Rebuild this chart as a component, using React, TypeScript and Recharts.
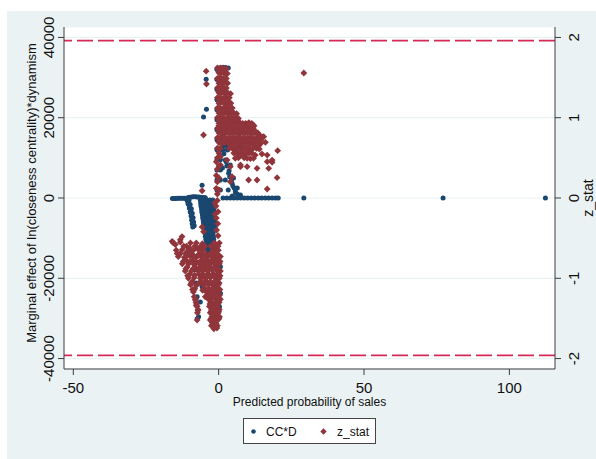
import React from "react";
import {
  ScatterChart,
  Scatter,
  XAxis,
  YAxis,
  CartesianGrid,
  ReferenceLine,
  Label,
} from "recharts";

// ---------- axis ticks ----------
const xTicks = [-50, 0, 50, 100];
const leftTicks = [-40000, -20000, 0, 20000, 40000];
const rightTicks = [-2, -1, 0, 1, 2];
const criticalZ = [1.96, -1.96];

// ---------- CC*D (left axis) : [x, marginal effect] ----------
const ccdLeftFlat: [number, number][] = [
  [-15.9, -150], [-15.3, -120], [-14.7, -100], [-14.1, -80], [-13.5, -60], [-12.9, -50],
  [-12.3, -60], [-11.7, -80], [-11.1, -120], [-10.5, 100], [-9.9, 200], [-9.3, 250],
  [-8.7, 300], [-8.1, 300], [-7.5, 280], [-6.9, 250], [-6.3, 200], [-5.7, 150], [-5.1, 100], [-4.6, 80],
];
const ccdHook: [number, number][] = [
  [-10.9, -500], [-10.5, -1500], [-10.1, -2500], [-9.8, -3500], [-9.5, -4500],
  [-9.3, -5500], [-9.1, -6400], [-8.9, -7200],
  [-10.2, -600], [-9.8, -1600], [-9.4, -2700], [-9.1, -3800], [-8.8, -4900],
  [-8.6, -6000], [-8.4, -6900],
  [-10.6, -1000], [-10.0, -2000], [-9.6, -3000], [-9.3, -4100], [-9.0, -5200], [-8.8, -6200],
];
const ccdBand: [number, number][] = [
  [-6.3, -500], [-5.2, -500], [-4.1, -500], [-3.0, -500], [-2.0, -500],
  [-6.2, -1250], [-5.1, -1250], [-4.0, -1250], [-2.9, -1250], [-1.9, -1250],
  [-6.1, -2000], [-5.0, -2000], [-3.9, -2000], [-2.8, -2000], [-1.8, -2000],
  [-5.9, -2750], [-4.8, -2750], [-3.7, -2750], [-2.7, -2750], [-1.7, -2750],
  [-5.8, -3500], [-4.7, -3500], [-3.6, -3500], [-2.6, -3500], [-1.6, -3500],
  [-5.6, -4250], [-4.5, -4250], [-3.5, -4250], [-2.5, -4250], [-1.5, -4250],
  [-5.5, -5000], [-4.4, -5000], [-3.4, -5000], [-2.4, -5000], [-1.5, -5000],
  [-5.3, -5750], [-4.3, -5750], [-3.3, -5750], [-2.3, -5750], [-1.4, -5750],
  [-5.2, -6500], [-4.2, -6500], [-3.2, -6500], [-2.2, -6500], [-1.3, -6500],
  [-5.0, -7250], [-4.0, -7250], [-3.1, -7250], [-2.1, -7250], [-1.2, -7250],
  [-4.9, -8000], [-3.9, -8000], [-3.0, -8000], [-2.0, -8000], [-1.2, -8000],
  [-4.7, -8750], [-3.8, -8750], [-2.9, -8750], [-1.9, -8750],
  [-4.6, -9500], [-3.6, -9500], [-2.7, -9500], [-1.8, -9500],
  [-4.4, -10250], [-3.5, -10250], [-2.5, -10250], [-1.7, -10250],
  [-4.2, -11000], [-3.3, -11000], [-2.4, -11000], [-1.6, -11000],
  [-4.0, -11750], [-3.1, -11750], [-2.3, -11750], [-1.5, -11750],
  [-3.8, -12500], [-3.0, -12500], [-2.2, -12500], [-1.4, -12500],
  [-3.5, -13250], [-2.8, -13250], [-2.0, -13250],
  [-3.3, -14000], [-2.6, -14000], [-1.8, -14000],
];
const ccdLowerScatter: [number, number][] = [
  [-8.0, -17900], [-7.7, -21200], [-5.7, -22100], [-7.4, -24600], [-6.3, -25900],
  [-6.9, -29600], [-7.4, -30100], [0.6, -17100], [0.6, -23700], [0.3, -27100],
  [0.0, -16700], [-2.2, -22900], [-6.0, -12200], [-3.5, -14200], [-5.2, -19500],
  [-1.0, -20500],
];
const ccdColumn: [number, number][] = [
  [-0.6, 32000], [-0.6, 29500], [-0.6, 27000], [-0.6, 24500], [-0.6, 22000],
  [-0.6, 19500], [-0.6, 17000], [-0.6, 14500], [-0.6, 12000], [-0.6, 9500],
  [-0.6, 7000], [-0.6, 4500], [-0.6, 2000],
  [0.6, 32000], [0.6, 29500], [0.6, 27000], [0.6, 24500], [0.6, 22000],
  [0.6, 19500], [0.6, 17000], [0.6, 14500], [0.6, 12000], [0.6, 9500],
  [0.6, 7000], [0.6, 4500], [0.6, 2000],
  [0.2, 32400], [1.3, 32500], [2.3, 32500], [3.3, 32400],
];
const ccdDecay: [number, number][] = [
  [1.6, 15500], [2.6, 13000],
  [1.17, 12770], [2.3, 9460], [3.44, 6150], [4.6, 3660], [5.75, 1570], [6.9, 324],
  [2.0, 14440], [3.0, 11950], [4.0, 8220], [5.1, 4980], [6.4, 2490], [7.5, 750],
  [0.24, 10710], [1.3, 7470], [2.3, 4480], [3.3, 1990], [4.7, 500],
  [0.8, 14000], [1.8, 11000], [2.8, 8000], [3.8, 5300], [4.9, 3000], [6.0, 1200], [7.2, 400],
  [1.5, 12000], [2.6, 9000], [3.6, 6800], [4.4, 4500], [5.4, 2400], [6.6, 900],
];
const ccdRightFlat: [number, number][] = [
  [1.5, 0], [2.8, 0], [4.0, 0], [5.2, 0], [6.4, 0], [7.6, 0], [8.8, 0],
  [10.0, 0], [11.2, 0], [12.4, 0], [13.6, 0], [14.8, 0], [16.0, 0], [17.2, 0],
  [18.4, 0], [19.6, 0], [20.5, 0], [29.3, 0], [77.2, 0], [112.4, 0],
];
const ccdOutliers: [number, number][] = [
  [-4.3, 29600], [-4.2, 22100], [-5.2, 20200], [-5.7, 3200],
];

// ---------- z_stat (right axis) : [x, z] ----------
const zUpper: [number, number][] = [
  [-0.45, 1.62], [0.58, 1.62], [1.62, 1.62], [2.65, 1.61],
  [0.07, 1.56], [1.1, 1.56], [2.13, 1.55], [3.0, 1.55],
  [-0.45, 1.49], [0.58, 1.5], [1.62, 1.49], [2.65, 1.49],
  [0.07, 1.43], [1.1, 1.43], [2.13, 1.44], [3.1, 1.43],
  [-0.45, 1.37], [0.58, 1.37], [1.62, 1.38], [2.65, 1.37],
  [0.07, 1.31], [1.1, 1.31], [2.13, 1.3], [3.17, 1.31], [4.1, 1.3],
  [-0.45, 1.25], [0.58, 1.25], [1.62, 1.24], [2.65, 1.25], [3.68, 1.25],
  [0.07, 1.18], [1.1, 1.19], [2.13, 1.18], [3.17, 1.18], [4.2, 1.18],
  [-0.45, 1.12], [0.58, 1.12], [1.62, 1.12], [2.65, 1.13], [3.68, 1.12], [4.7, 1.12],
  [0.07, 1.06], [1.1, 1.06], [2.13, 1.06], [3.17, 1.05], [4.2, 1.06], [5.2, 1.06], [6.2, 1.05],
  [-0.45, 1.0], [0.58, 1.0], [1.62, 1.0], [2.65, 0.99], [3.68, 1.0], [4.7, 1.0], [5.75, 1.0], [6.8, 0.99],
  [0.07, 0.93], [1.1, 0.94], [2.13, 0.93], [3.17, 0.93], [4.2, 0.93], [5.2, 0.94],
  [6.27, 0.93], [7.3, 0.94], [8.3, 0.93], [9.3, 0.93], [10.4, 0.94], [11.4, 0.93],
  [-0.45, 0.87], [0.58, 0.87], [1.62, 0.87], [2.65, 0.87], [3.68, 0.88], [4.7, 0.87],
  [5.75, 0.87], [6.8, 0.87], [7.8, 0.87], [8.8, 0.88], [9.9, 0.87], [10.9, 0.87], [11.9, 0.87],
  [0.07, 0.81], [1.1, 0.81], [2.13, 0.8], [3.17, 0.81], [4.2, 0.81], [5.2, 0.81], [6.27, 0.81],
  [7.3, 0.8], [8.3, 0.81], [9.3, 0.81], [10.4, 0.81], [11.4, 0.8], [12.4, 0.81], [13.5, 0.81],
  [-0.45, 0.75], [0.58, 0.75], [1.62, 0.75], [2.65, 0.74], [3.68, 0.75], [4.7, 0.75], [5.75, 0.75],
  [6.8, 0.75], [7.8, 0.74], [8.8, 0.75], [9.9, 0.75], [10.9, 0.75], [11.9, 0.74], [13.0, 0.75],
  [14.0, 0.75], [15.0, 0.76],
  [0.07, 0.69], [1.1, 0.68], [2.13, 0.69], [3.17, 0.69], [4.2, 0.68], [5.2, 0.69], [6.27, 0.69],
  [7.3, 0.68], [8.3, 0.69], [9.3, 0.69], [10.4, 0.69], [11.4, 0.68], [12.4, 0.69], [13.5, 0.69], [14.5, 0.68],
  [-0.45, 0.62], [0.58, 0.62], [3.68, 0.62], [4.7, 0.62], [5.75, 0.62], [6.8, 0.63], [7.8, 0.62],
  [8.8, 0.62], [9.9, 0.62], [10.9, 0.61], [11.9, 0.62], [13.0, 0.62], [14.0, 0.61],
  [0.07, 0.56], [5.2, 0.56], [6.27, 0.55], [7.3, 0.56], [8.3, 0.56], [9.3, 0.55], [10.4, 0.56], [11.4, 0.56],
  [-0.45, 0.5], [6.8, 0.5], [8.8, 0.5], [10.9, 0.49],
];
const zUpperFill: [number, number][] = [
  [0.1, 1.59], [1.6, 1.58], [0.1, 1.46], [1.6, 1.46], [0.1, 1.34], [1.6, 1.34],
  [0.1, 1.22], [1.6, 1.21], [3.1, 1.22], [0.1, 1.09], [1.6, 1.09], [3.1, 1.09], [4.2, 1.09],
  [0.1, 0.97], [1.6, 0.97], [3.1, 0.97], [4.6, 0.97], [6.0, 0.96],
  [0.1, 0.9], [2.1, 0.9], [4.2, 0.9], [6.3, 0.9], [8.3, 0.9], [10.4, 0.9], [12.2, 0.9],
  [0.1, 0.84], [2.1, 0.84], [4.2, 0.84], [6.3, 0.84], [8.3, 0.84], [10.4, 0.84], [12.4, 0.84], [14.2, 0.78],
  [0.1, 0.72], [2.1, 0.72], [4.2, 0.72], [6.3, 0.72], [8.3, 0.72], [10.4, 0.72], [12.4, 0.72], [14.5, 0.72],
  [4.2, 0.65], [6.3, 0.65], [8.3, 0.65], [10.4, 0.65], [12.4, 0.65], [13.8, 0.65],
  [6.0, 0.59], [8.0, 0.59], [10.0, 0.59],
];
const zScatterRight: [number, number][] = [
  [15.5, 0.763], [16.1, 0.694], [20.3, 0.589], [12.6, 0.535], [14.9, 0.548],
  [7.5, 0.535], [9.8, 0.494], [16.7, 0.452], [18.4, 0.445], [4.0, 0.203],
  [10.3, 0.224], [13.2, 0.224], [16.7, 0.112], [20.1, 0.253], [8.6, 0.514],
  [12.0, 0.494], [5.7, 0.494], [7.5, 0.39], [9.8, 0.39], [13.2, 0.37],
  [17.2, 0.37], [18.4, 0.473], [16.7, 0.535], [4.0, 0.39], [2.9, 0.473],
  [0.6, 0.514], [4.6, 0.265], [0.6, 0.411], [7.5, 0.411],
];
const zColumnMid: [number, number][] = [
  [-0.8, 0.45], [-0.45, 0.36], [-0.8, 0.28], [-0.45, 0.2], [-0.8, 0.12], [-0.45, 0.05],
  [0.1, 0.4], [0.1, 0.25], [0.1, 0.1],
  [-0.45, -0.03], [-0.9, -0.1], [-0.2, -0.17], [-0.8, -0.25], [-0.3, -0.32],
  [-0.7, -0.4], [-0.2, -0.47], [-1.3, -0.06], [-1.2, -0.2],
];
const zLower: [number, number][] = [
  [-15.6, -0.56], [-13.2, -0.55], [-9.7, -0.56], [-7.7, -0.56], [-5.6, -0.57], [-1.5, -0.56], [0.24, -0.56],
  [-11.1, -0.6], [-8.2, -0.6], [-6.4, -0.61], [-0.9, -0.6],
  [-14.6, -0.65], [-12.5, -0.64], [-10.4, -0.65], [-8.7, -0.65], [-7.0, -0.64], [-5.3, -0.65], [-1.8, -0.65], [-0.1, -0.65],
  [-13.2, -0.69], [-11.4, -0.69], [-9.5, -0.69], [-6.2, -0.69], [-4.4, -0.7], [-2.7, -0.69], [-1.0, -0.69],
  [-13.9, -0.73], [-11.8, -0.74], [-9.7, -0.73], [-7.7, -0.74], [-6.0, -0.73], [-4.2, -0.74], [-2.5, -0.73], [-0.8, -0.74], [0.6, -0.73],
  [-11.0, -0.78], [-8.9, -0.78], [-5.4, -0.78], [-3.6, -0.78], [-1.9, -0.77], [-0.2, -0.78],
  [-12.5, -0.82], [-10.4, -0.82], [-8.4, -0.83], [-6.6, -0.82], [-4.9, -0.82], [-3.2, -0.83], [-1.5, -0.82], [0.24, -0.82],
  [-10.8, -0.86], [-7.8, -0.87], [-6.0, -0.86], [-4.3, -0.86], [-2.6, -0.87], [-0.9, -0.86],
  [-11.5, -0.91], [-9.4, -0.91], [-7.3, -0.9], [-5.6, -0.91], [-3.9, -0.91], [-2.2, -0.9], [-0.45, -0.91], [0.6, -0.91],
  [-9.9, -0.95], [-6.8, -0.95], [-5.1, -0.96], [-3.4, -0.95], [-1.7, -0.95], [-0.1, -0.95],
  [-10.4, -1.0], [-8.4, -0.99], [-6.3, -1.0], [-4.6, -1.0], [-2.9, -0.99], [-1.1, -1.0], [0.24, -1.0],
  [-9.0, -1.04], [-5.9, -1.04], [-4.1, -1.04], [-2.4, -1.05], [-0.6, -1.04],
  [-9.7, -1.08], [-7.7, -1.09], [-5.3, -1.08], [-3.5, -1.08], [-1.8, -1.09], [-0.1, -1.08],
  [-8.2, -1.13], [-4.8, -1.12], [-3.3, -1.13], [-2.2, -1.13], [-0.8, -1.12],
  [-8.7, -1.17], [-4.2, -1.17], [-2.9, -1.18], [-1.5, -1.17], [-0.1, -1.17],
  [-3.9, -1.21], [-2.5, -1.22], [-1.0, -1.21], [0.3, -1.21],
  [-8.0, -1.26], [-3.5, -1.26], [-2.2, -1.25], [-0.8, -1.26], [0.6, -1.26],
  [-7.8, -1.3], [-2.7, -1.3], [-1.2, -1.3], [0.2, -1.3],
  [-7.7, -1.34], [-3.2, -1.35], [-1.8, -1.34], [-0.45, -1.35],
  [-7.1, -1.39], [-2.4, -1.39], [-1.0, -1.39], [0.2, -1.39],
  [-7.3, -1.43], [-2.9, -1.43], [-1.5, -1.44], [-0.1, -1.43],
  [-2.3, -1.48], [-0.9, -1.47], [0.3, -1.48],
  [-7.4, -1.52], [-2.9, -1.52], [-1.5, -1.52], [-0.1, -1.51],
  [-2.1, -1.56], [-0.9, -1.56],
  [-2.5, -1.59], [-1.5, -1.6], [-0.45, -1.59], [-1.65, -1.63],
];
const zLowerFill: [number, number][] = [
  [-14.9, -0.58], [-12.0, -0.6], [-10.0, -0.62], [-7.5, -0.62], [-4.7, -0.6], [-2.7, -0.6], [-0.2, -0.6],
  [-13.6, -0.71], [-10.6, -0.71], [-8.5, -0.72], [-7.1, -0.71], [-5.2, -0.72], [-3.4, -0.71], [-1.8, -0.71], [-0.1, -0.71],
  [-12.2, -0.79], [-9.9, -0.8], [-7.6, -0.8], [-6.4, -0.79], [-4.6, -0.8], [-2.8, -0.8], [-1.1, -0.8], [0.5, -0.79],
  [-11.3, -0.88], [-8.8, -0.88], [-6.8, -0.88], [-5.2, -0.88], [-3.5, -0.89], [-1.8, -0.88], [-0.1, -0.88],
  [-10.7, -0.97], [-8.3, -0.96], [-6.0, -0.97], [-4.3, -0.97], [-2.5, -0.97], [-0.9, -0.97], [0.5, -0.97],
  [-9.4, -1.06], [-6.8, -1.06], [-5.0, -1.06], [-3.2, -1.06], [-1.5, -1.06], [0.2, -1.06],
  [-9.0, -1.14], [-5.5, -1.15], [-4.0, -1.15], [-2.5, -1.15], [-1.1, -1.15], [0.4, -1.14],
  [-8.4, -1.23], [-4.6, -1.23], [-3.2, -1.24], [-1.8, -1.23], [-0.4, -1.23],
  [-7.6, -1.32], [-3.0, -1.32], [-1.6, -1.32], [-0.2, -1.32],
  [-2.6, -1.41], [-1.3, -1.41], [0.0, -1.41],
  [-2.6, -1.5], [-1.2, -1.5], [0.1, -1.5],
  [-2.3, -1.54], [-1.1, -1.58], [-0.6, -1.62],
];
const zFan: [number, number][] = [
  [-16.0, -0.54], [-13.2, -0.52], [-14.3, -0.69], [-12.6, -0.48], [-8.6, -1.15],
  [-8.0, -1.27], [-7.4, -1.35], [-7.1, -1.4], [-5.7, -0.36], [-5.2, -0.42],
];
const zOutliers: [number, number][] = [
  [-4.3, 1.58], [-4.2, 1.42], [-5.2, 0.785], [-5.7, 0.09], [29.3, 1.557],
];

// ---------- build series ----------
const toRows = (pts: [number, number][]) => pts.map(([x, y]) => ({ x, y }));
const ccdData = toRows([
  ...ccdLeftFlat, ...ccdHook, ...ccdBand, ...ccdLowerScatter,
  ...ccdColumn, ...ccdDecay, ...ccdRightFlat, ...ccdOutliers,
]);
const zData = toRows([
  ...zUpper, ...zUpperFill, ...zScatterRight, ...zColumnMid,
  ...zLower, ...zLowerFill, ...zFan, ...zOutliers,
]);

// ---------- styles ----------
const BG = "#EAF2F3";
const NAVY = "#1A476F";
const MAROON = "#90353B";
const AXIS = "#3c3c3c";
const DASH = "#D42A55";
const FONT = "'Liberation Sans', Arial, Helvetica, sans-serif";

const Dot = (p: any) => <circle cx={p.cx} cy={p.cy} r={2.5} fill={NAVY} />;
const Diamond = (p: any) => {
  const s = 3.4;
  return (
    <polygon
      points={`${p.cx},${p.cy - s} ${p.cx + s},${p.cy} ${p.cx},${p.cy + s} ${p.cx - s},${p.cy}`}
      fill={MAROON}
    />
  );
};

const XTick = (p: any) => (
  <text x={p.x} y={p.y + 16.3} textAnchor="middle" fontSize={15} fontFamily={FONT} fill="#111">
    {String(p.payload.value)}
  </text>
);
const LeftTick = (p: any) => (
  <text
    transform={`translate(${p.x - 2.3},${p.y}) rotate(-90)`}
    textAnchor="middle"
    fontSize={15}
    fontFamily={FONT}
    fill="#111"
  >
    {String(p.payload.value)}
  </text>
);
const RightTick = (p: any) => (
  <text
    transform={`translate(${p.x + 15.7},${p.y}) rotate(-90)`}
    textAnchor="middle"
    fontSize={15}
    fontFamily={FONT}
    fill="#111"
  >
    {String(p.payload.value)}
  </text>
);

export default function App() {
  return (
    <div style={{ position: "absolute", left: 0, top: 0, width: 596, height: 459, background: "#fff" }}>
      <div style={{ position: "absolute", left: 7, top: 11, width: 589, height: 448, background: BG }} />
      <div style={{ position: "absolute", left: 0, top: 0 }}>
        <ScatterChart width={596} height={459} margin={{ top: 27, right: 11, bottom: 45, left: 24 }}>
          <CartesianGrid yAxisId="L" vertical={false} horizontal stroke={BG} strokeWidth={1.2} fill="#ffffff" />
          <XAxis
            type="number"
            dataKey="x"
            domain={[-53.2, 115.7]}
            ticks={xTicks}
            allowDataOverflow
            height={45}
            tickSize={6}
            tickMargin={2}
            stroke={AXIS}
            tickLine={{ stroke: AXIS }}
            tick={<XTick />}
          >
            <Label
              content={() => (
                <text x={309.5} y={406} textAnchor="middle" fontSize={12} fontFamily={FONT} fill="#111">
                  Predicted probability of sales
                </text>
              )}
            />
          </XAxis>
          <YAxis
            yAxisId="L"
            type="number"
            dataKey="y"
            orientation="left"
            domain={[-42600, 42600]}
            ticks={leftTicks}
            allowDataOverflow
            width={40}
            tickSize={6}
            tickMargin={2}
            stroke={AXIS}
            tickLine={{ stroke: AXIS }}
            tick={<LeftTick />}
          >
            <Label
              content={() => (
                <text
                  transform={`translate(36,193) rotate(-90)`}
                  textAnchor="middle"
                  fontSize={13}
                  fontFamily={FONT}
                  fill="#111"
                >
                  Marginal effect of ln(closeness centrality)*dynamism
                </text>
              )}
            />
          </YAxis>
          <YAxis
            yAxisId="R"
            type="number"
            dataKey="y"
            orientation="right"
            domain={[-2.13, 2.13]}
            ticks={rightTicks}
            allowDataOverflow
            width={30}
            tickSize={6}
            tickMargin={2}
            stroke={AXIS}
            tickLine={{ stroke: AXIS }}
            tick={<RightTick />}
          >
            <Label
              content={() => (
                <text
                  transform={`translate(593,198) rotate(-90)`}
                  textAnchor="middle"
                  fontSize={14}
                  fontFamily={FONT}
                  fill="#111"
                >
                  z_stat
                </text>
              )}
            />
          </YAxis>
          {criticalZ.map((v) => (
            <ReferenceLine
              key={v}
              yAxisId="R"
              y={v}
              stroke={DASH}
              strokeWidth={1.6}
              strokeDasharray="16 5"
            />
          ))}
          <Scatter
            name="CC*D"
            data={ccdData}
            yAxisId="L"
            shape={Dot}
            isAnimationActive={false}
          />
          <Scatter
            name="z_stat"
            data={zData}
            yAxisId="R"
            shape={Diamond}
            isAnimationActive={false}
          />
        </ScatterChart>
      </div>
      <div
        style={{
          position: "absolute",
          left: 243,
          top: 418,
          width: 131,
          height: 24,
          border: "1px solid #444",
          background: "#fff",
          fontFamily: FONT,
          fontSize: 12,
          color: "#111",
        }}
      >
        <svg width={131} height={24} style={{ position: "absolute", left: 0, top: 0 }}>
          <circle cx={9.5} cy={12.5} r={2.3} fill={NAVY} />
          <text x={22} y={17} fontSize={12} fontFamily={FONT} fill="#111">CC*D</text>
          <polygon points="79.5,9.3 82.7,12.5 79.5,15.7 76.3,12.5" fill={MAROON} />
          <text x={93} y={17} fontSize={12} fontFamily={FONT} fill="#111">z_stat</text>
        </svg>
      </div>
    </div>
  );
}
